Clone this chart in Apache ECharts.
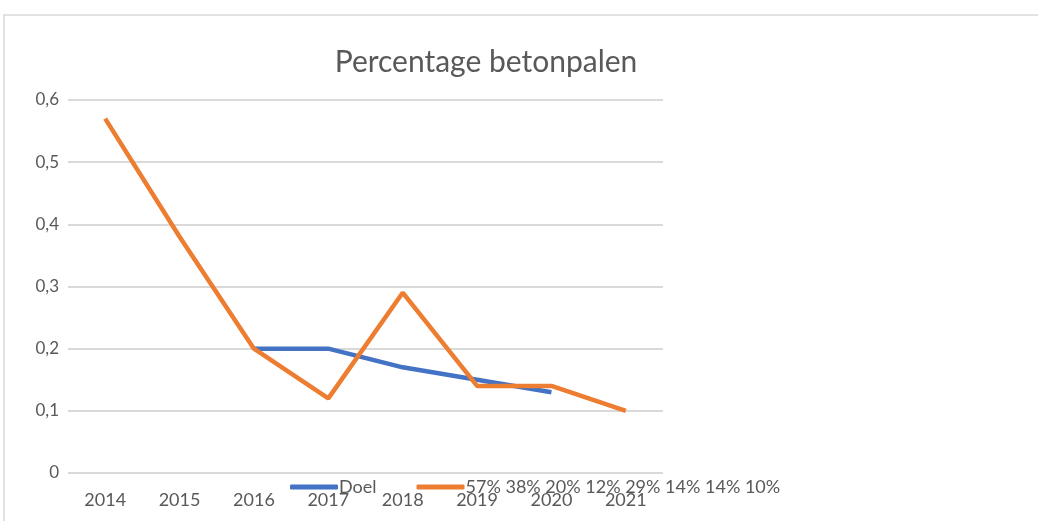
<!DOCTYPE html>
<html>
<head>
    <meta charset="utf-8">
    <title>Percentage betonpalen</title>
    <script src="https://cdn.jsdelivr.net/npm/echarts@6/dist/echarts.min.js"></script>
    <style>
        body{margin:0;background:#fff}
        #main{width:1038px;height:521px}
    </style>
</head>
<body>
<div id="main"></div>
<script type="text/javascript">
    // data
    var years = ['2014', '2015', '2016', '2017', '2018', '2019', '2020', '2021'];
    var doel = [null, null, 0.2, 0.2, 0.17, 0.15, 0.13, null];
    var werkelijk = [0.57, 0.38, 0.2, 0.12, 0.29, 0.14, 0.14, 0.10];
    var serieNamen = ['Doel', '57% 38% 20% 12% 29% 14% 14% 10%'];

    var textKleur = '#595959';
    var font = 'Lato, "Open Sans", sans-serif';

    var myChart = echarts.init(document.getElementById('main'));
    myChart.setOption({
        animation: false,
        textStyle: {fontFamily: font},
        graphic: [{
            type: 'rect',
            shape: {x: 4, y: 15, width: 1100, height: 600},
            style: {fill: 'none', stroke: '#d9d9d9', lineWidth: 1.5},
            silent: true
        }],
        title: {
            text: 'Percentage betonpalen',
            left: 481, top: 42, textAlign: 'center',
            textStyle: {fontFamily: font, fontSize: 30, fontWeight: 'normal', color: textKleur}
        },
        legend: {
            data: serieNamen,
            left: 285, top: 473,
            icon: 'roundRect',
            itemWidth: 48, itemHeight: 5, itemGap: 40,
            textStyle: {fontFamily: font, fontSize: 18, color: textKleur, padding: [0, 0, 0, -4]}
        },
        grid: {left: 68, right: 375, top: 100, bottom: 48},
        xAxis: {
            type: 'category',
            data: years,
            axisLine: {show: false},
            axisTick: {show: false},
            axisLabel: {fontFamily: font, fontSize: 18, color: textKleur, margin: 18}
        },
        yAxis: {
            type: 'value',
            min: 0, max: 0.6, interval: 0.1,
            splitLine: {lineStyle: {color: '#d9d9d9', width: 2}},
            axisLabel: {
                fontFamily: font, fontSize: 17, color: textKleur, margin: 9,
                formatter: function (v) { return String(Math.round(v * 10) / 10).replace('.', ','); }
            }
        },
        series: [
            {
                name: serieNamen[0], type: 'line', data: doel,
                showSymbol: false, lineStyle: {width: 4.5, color: '#4472C4'},
                itemStyle: {color: '#4472C4'}
            },
            {
                name: serieNamen[1], type: 'line', data: werkelijk,
                showSymbol: false, lineStyle: {width: 4.5, color: '#ED7D31'},
                itemStyle: {color: '#ED7D31'}
            }
        ]
    });
</script>
</body>
</html>
